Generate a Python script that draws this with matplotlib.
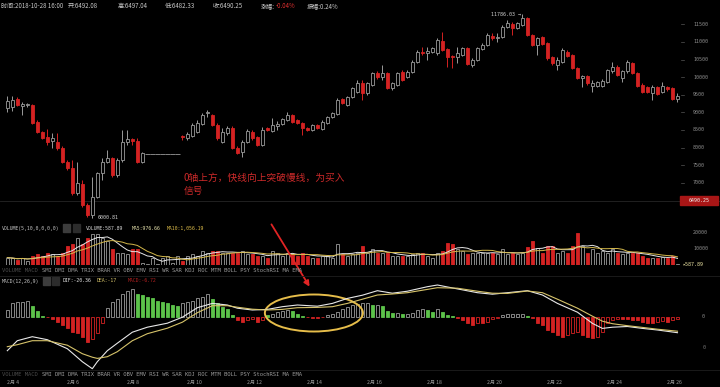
import numpy as np
import pandas as pd
import matplotlib
matplotlib.use("Agg")
import matplotlib.pyplot as plt
import matplotlib.transforms as mtransforms
from matplotlib.patches import Ellipse, Rectangle

plt.rcParams["font.family"] = ["Noto Sans CJK SC", "DejaVu Sans"]

# ---- data (4h candles, 2月4 00:00 onwards) ----
opens = [9123, 9160, 9370, 9190, 9210, 9210, 8730, 8450, 8310, 8180,
         8170, 7980, 7600, 7410, 6700, 6960, 6370, 6090, 6600, 7270,
         7600, 7690, 7220, 7650, 8170, 8230, 8200, 7600, 7815, 7815,
         7815, 7815, 7815, 7815, 7815, 8330, 8270, 8330, 8450, 8680,
         8980, 8930, 8640, 8170, 8400, 8550, 8000, 7880, 8170, 8450,
         8290, 8070, 8550, 8480, 8600, 8670, 8780, 8920, 8780, 8690,
         8550, 8500, 8640, 8540, 8710, 8870, 8950, 9370, 9210, 9440,
         9590, 9820, 9540, 9780, 10120, 9990, 10110, 9680, 9780, 10150,
         10010, 10150, 10440, 10720, 10690, 10720, 10680, 11030, 10790, 10590,
         10580, 10630, 10820, 10340, 10490, 10800, 10910, 11170, 11110, 11130,
         11410, 11510, 11390, 11480, 11670, 11200, 10910, 11130, 10960, 10560,
         10350, 10440, 10720, 10630, 10250, 9970, 10030, 9740, 9760, 9760,
         9870, 10160, 10300, 9970, 10160, 10390, 10110, 9780, 9720, 9540,
         9710, 9590, 9710, 9680, 9370]
highs = [9450, 9450, 9430, 9300, 9260, 9250, 8780, 8480, 8530, 8400,
         8400, 8030, 7650, 7650, 7600, 7070, 6420, 7170, 7310, 7690,
         7930, 7740, 7700, 8500, 8500, 8280, 8280, 7880, 7815, 7815,
         7815, 7815, 7815, 7815, 7815, 8360, 8440, 8690, 8780, 8980,
         9070, 8960, 8700, 8550, 8600, 8600, 8030, 8220, 8520, 8500,
         8320, 8590, 8580, 8830, 8740, 8850, 9010, 8960, 8810, 8730,
         8580, 8680, 8670, 8780, 8910, 9010, 9400, 9400, 9470, 9720,
         9920, 9920, 9870, 10150, 10160, 10340, 10150, 9860, 10150, 10200,
         10190, 10480, 10760, 10860, 10860, 10860, 11100, 11290, 10820, 10620,
         10860, 10860, 10860, 10530, 10860, 10960, 11240, 11240, 11240, 11470,
         11620, 11570, 11570, 11786.03, 11700, 11230, 11150, 11160, 10990, 10590,
         10580, 10820, 10760, 10660, 10280, 10060, 10060, 9920, 9900, 9950,
         10240, 10440, 10340, 10200, 10480, 10430, 10150, 9820, 9750, 9780,
         9740, 9870, 9740, 9710, 9540]
lows = [9020, 9050, 9180, 8920, 9150, 8660, 8410, 8230, 8080, 7990,
        7930, 7550, 7360, 6650, 6650, 6320, 6040, 6000.81, 6560, 7080,
        7560, 7170, 7170, 7600, 8070, 8070, 7560, 7550, 7815, 7815,
        7815, 7815, 7815, 7815, 7815, 8220, 8210, 8300, 8400, 8640,
        8860, 8600, 8220, 8120, 8350, 7950, 7820, 7740, 8120, 8220,
        8030, 8030, 8460, 8450, 8500, 8630, 8740, 8700, 8660, 8350,
        8470, 8470, 8530, 8510, 8680, 8850, 8920, 9230, 9180, 9420,
        9540, 9350, 9500, 9740, 9960, 9920, 9650, 9640, 9740, 9880,
        9970, 10120, 10410, 10630, 10490, 10690, 10640, 10740, 10300, 10270,
        10390, 10590, 10340, 10300, 10460, 10770, 10880, 11050, 11010, 11100,
        11390, 11200, 11360, 11450, 11170, 10880, 10630, 10910, 10500, 10350,
        10200, 10400, 10570, 10220, 9940, 9710, 9790, 9590, 9720, 9720,
        9830, 10110, 10030, 9870, 10130, 10080, 9720, 9560, 9560, 9350,
        9490, 9540, 9620, 9340, 9300]
closes = [9311, 9350, 9210, 9230, 9220, 8690, 8450, 8260, 8170, 8260,
          7980, 7600, 7410, 6700, 6980, 6370, 6090, 6600, 7270, 7600,
          7700, 7220, 7650, 8170, 8230, 8200, 7600, 7840, 7815, 7815,
          7815, 7815, 7815, 7815, 7815, 8290, 8380, 8640, 8710, 8920,
          9000, 8640, 8260, 8450, 8550, 7980, 7850, 8170, 8470, 8260,
          8070, 8500, 8500, 8640, 8670, 8800, 8920, 8730, 8690, 8550,
          8500, 8640, 8560, 8730, 8880, 8980, 9350, 9260, 9440, 9680,
          9820, 9540, 9820, 10110, 9990, 10110, 9680, 9820, 10110, 9920,
          10150, 10440, 10720, 10680, 10740, 10820, 11050, 10770, 10580, 10570,
          10680, 10820, 10370, 10490, 10820, 10910, 11200, 11120, 11150, 11430,
          11540, 11390, 11530, 11670, 11200, 10910, 11100, 10940, 10530, 10390,
          10490, 10770, 10600, 10250, 9970, 10030, 9820, 9820, 9850, 9900,
          10200, 10300, 10060, 10160, 10440, 10110, 9750, 9590, 9590, 9710,
          9520, 9750, 9650, 9370, 9460]
volumes = [4500, 4000, 3000, 4500, 2400, 5500, 6500, 5500, 7500, 6500,
           5500, 7500, 11600, 12600, 16700, 12600, 16700, 19000, 18700, 16700,
           14600, 9600, 7500, 7500, 6500, 9600, 9600, 1400, 500, 4500,
           500, 4500, 5500, 1000, 5500, 2400, 5500, 6500, 5500, 8500,
           7500, 8500, 8500, 7500, 7500, 7500, 7500, 8500, 6500, 6500,
           5500, 5500, 4500, 8500, 7500, 5500, 7500, 6500, 5500, 7500,
           5500, 4500, 4500, 5500, 5500, 4500, 12600, 6500, 5500, 6500,
           7500, 11600, 7500, 9600, 7500, 7500, 7500, 5500, 5500, 5500,
           5500, 6500, 7500, 7500, 5500, 4500, 7500, 8500, 13600, 13000,
           9600, 8500, 6500, 7500, 7500, 7500, 7500, 7500, 6500, 9600,
           6500, 7500, 6500, 7500, 11000, 14600, 10500, 7500, 11600, 11600,
           7500, 8500, 7500, 11600, 19700, 11600, 7500, 9600, 7500, 8500,
           7500, 9600, 7500, 6500, 7500, 7500, 7500, 5500, 4500, 4500,
           4500, 5000, 4500, 5500, 588]
macd_hist = [6.7, 13.3, 15, 15, 16, 10.7, 6, 1, -0.5, -2,
             -5, -8.3, -11.7, -15, -16.7, -20, -25, -22, -16, -6,
             8.3, 15, 18, 23, 26, 27.7, 23, 21.7, 20, 18.3,
             16, 15, 13.3, 11.7, 10.7, 13.3, 15, 16, 18.3, 20,
             22.7, 17.3, 13.3, 10, 7.3, 2, -3.3, -5, -3, -2,
             -5, -3, 2, 3, 5, 5.5, 6.5, 6, 3, 1,
             -0.5, -1, -1, -0.7, 1.5, 3, 5, 8, 10, 12,
             13, 13.3, 14, 11.7, 11.7, 10.7, 6, 3.3, 3.3, 2.7,
             2.7, 4, 6.7, 7.3, 6.7, 5, 7.3, 5, 1.7, 0.3,
             -1.7, -3.3, -6.7, -8.3, -6.7, -6.7, -5, -2.7, -1.7, 2,
             3, 3, 3, 3, 0.3, -1.7, -6.7, -8.3, -13.3, -15,
             -18.3, -20, -18.3, -16.7, -15, -18.3, -20, -21.7, -20, -15,
             -6.7, -3.3, -2, -2, -2, -3, -3.3, -5, -6.7, -6.7,
             -5, -4, -5, -3, -2]
line_idx = [0, 2, 5, 8, 12, 15, 17, 18, 20, 22, 25, 28, 32, 35, 38, 41, 44, 46,
            49, 52, 55, 58, 62, 65, 68, 71, 74, 77, 80, 84, 86, 90, 94, 97, 100,
            104, 107, 110, 114, 117, 119, 121, 124, 127, 130, 134]
dif = [-34, -24, -20, -23, -32, -45, -52, -45, -34, -26.5, -15.5, -10.5, -6.5,
       -0.5, 9, 13.3, 11.7, 8.5, 6.7, 7.3, 10, 11.7, 10.5, 13.3, 18.3, 21.5, 26,
       23.5, 25.5, 30, 31.7, 27.8, 24, 22.5, 24, 26, 21.7, 13.3, 4.5, -6.7,
       -11.7, -10.5, -9.8, -11.7, -13.3, -16]
dea = [-30, -28, -24, -24, -28.5, -37, -40.5, -41.7, -40, -35, -24, -17, -11.5,
       -5.5, 4, 11, 11, 9.5, 7.5, 6.7, 7.3, 9, 9.3, 10, 13.3, 17.5, 21.7, 22.7,
       24, 27.3, 29, 28.5, 25.5, 23.5, 23.3, 25.7, 24, 17.5, 8.5, 0.5, -4.5, -7,
       -9, -10.7, -12.5, -14.5]
days = [4, 6, 8, 10, 12, 14, 16, 18, 20, 22, 24, 26]
day_labels = ["2月 " + str(d) for d in days]
price_ticks = [7000, 7500, 8000, 8500, 9000, 9500, 10000, 10500, 11000, 11500]
vol_ticks = [10000, 20000]
last_price = 6490.25
tabs = ["VOLUME", "MACD", "SMI", "DMI", "DMA", "TRIX", "BRAR", "VR", "OBV", "EMV",
        "RSI", "WR", "SAR", "KDJ", "ROC", "MTM", "BOLL", "PSY", "StochRSI", "MA", "EMA"]

W, H = 720, 387
BG = "#000000"
RED = "#d42222"
GRAY = "#9a9a9a"
GREEN = "#5cc24a"
MONO = ["DejaVu Sans Mono", "Noto Sans CJK SC"]


def band(top, bottom):
    return [0, 1 - bottom / H, 1, (bottom - top) / H]


def ftext(x, y, s, **kw):
    fig.text(x / W, 1 - y / H, s, va="center", **kw)


fig = plt.figure(figsize=(7.2, 3.87), dpi=100, facecolor=BG)
ax_p = fig.add_axes(band(8, 221))
ax_v = fig.add_axes(band(230, 265))
ax_m = fig.add_axes(band(283, 370))
for ax in (ax_p, ax_v, ax_m):
    ax.set_facecolor("none")
    ax.set_axis_off()
    ax.set_xlim(-1.46, 142.5)
ax_p.set_ylim(5914, 11963)
ax_v.set_ylim(0, 21340)
ax_m.set_ylim(-53.3, 33.7)

o, hi, lo, c = (np.array(a, dtype=float) for a in (opens, highs, lows, closes))
x = np.arange(len(c))
up = c >= o
edge = np.where(up, GRAY, RED)
face = np.where(up, BG, RED)

# candles
ax_p.axhline(last_price, color="#262626", lw=0.6, zorder=0)
ax_p.vlines(x, lo, hi, colors=edge, lw=0.7, zorder=1)
flat = hi == lo
ax_p.bar(x, np.maximum(np.abs(c - o), 14), width=np.where(flat, 1.0, 0.66),
         bottom=np.minimum(o, c), color=face, edgecolor=edge, linewidth=0.6, zorder=2)

imin, imax = int(np.argmin(lo)), int(np.argmax(hi))
ax_p.annotate(f"{lo[imin]:.2f}", xy=(imin, lo[imin]), xytext=(4, 0), textcoords="offset points",
              ha="left", va="center", size=3.6, color="#cfcfcf", family=MONO,
              arrowprops=dict(arrowstyle="-", color="#cfcfcf", lw=0.5))
ax_p.annotate(f"{hi[imax]:.2f} →", xy=(imax, hi[imax]), xytext=(-1, 0), textcoords="offset points",
              ha="right", va="center", size=3.6, color="#cfcfcf", family=MONO)

tp = mtransforms.blended_transform_factory(ax_p.transAxes, ax_p.transData)
for p in price_ticks:
    ax_p.text(693 / W, p, str(p), transform=tp, size=3.6, color="#8c8c8c",
              family=MONO, va="center", ha="left")
    ax_p.plot([681 / W, 684 / W], [p, p], transform=tp, color="#555555", lw=0.5)
ax_p.add_patch(Rectangle((680 / W, last_price - 130), 38 / W, 260, transform=tp,
                         color="#a81616", zorder=5))
ax_p.text(699 / W, last_price, f"{last_price:.2f}", transform=tp, size=3.6, color="#f0f0f0",
          family=MONO, ha="center", va="center", zorder=6)

# volume
vol = np.array(volumes, dtype=float)
ax_v.bar(x, vol, 0.66, color=face, edgecolor=edge, linewidth=0.6)
vs = pd.Series(vol)
ax_v.plot(x, vs.rolling(5, min_periods=1).mean(), color="#e6e6e6", lw=0.7)
ax_v.plot(x, vs.rolling(10, min_periods=1).mean(), color="#d4b84a", lw=0.7)
tv = mtransforms.blended_transform_factory(ax_v.transAxes, ax_v.transData)
for v in vol_ticks:
    ax_v.text(693 / W, v, str(v), transform=tv, size=3.6, color="#8c8c8c",
              family=MONO, va="center")
ax_v.text(682 / W, vol[-1], "▸587.89", transform=tv, size=3.6,
          color="#e8e0a0", family=MONO, va="center")

# macd
hist = np.array(macd_hist, dtype=float)
prev = np.concatenate([[0.0], hist[:-1]])
grow = np.abs(hist) >= np.abs(prev)
pos = hist >= 0
hface = np.where(pos, np.where(grow, BG, GREEN), np.where(grow, RED, BG))
hedge = np.where(pos, np.where(grow, GRAY, GREEN), RED)
ax_m.bar(x, hist, 0.66, color=hface, edgecolor=hedge, linewidth=0.6)
ax_m.plot(line_idx, dif, color="#e8e8e8", lw=0.8)
ax_m.plot(line_idx, dea, color="#d6c36a", lw=0.8)
ax_m.add_patch(Ellipse((61.3, 3.7), 19.6, 37, fill=False, edgecolor="#e6bd4a", lw=1.4))
tm = mtransforms.blended_transform_factory(ax_m.transAxes, ax_m.transData)
ax_m.text(702 / W, 0, "0", transform=tm, size=3.6, color="#8c8c8c", family=MONO, va="center")
ax_m.text(703 / W, -31, "0", transform=tm, size=3.6, color="#777777", family=MONO, va="center")

td = mtransforms.blended_transform_factory(ax_m.transData, fig.transFigure)
for d, lab in zip(days, day_labels):
    ax_m.text((d - days[0]) * 6, 1 - 382.5 / H, lab, transform=td, ha="left", va="center",
              size=3.7, color="#9a9a9a", clip_on=False)

# separators
for yy in (276, 370):
    fig.add_artist(plt.Line2D([0, 1], [1 - yy / H] * 2, color="#1e1e1e", lw=0.6))

# header
hdr = dict(size=4.4, color="#c8c8c8")
ftext(1, 6, "时间:2018-10-28 16:00", **hdr)
ftext(68, 6, "开:6492.08", **hdr)
ftext(118, 6, "高:6497.04", **hdr)
ftext(165, 6, "低:6482.33", **hdr)
ftext(213, 6, "收:6490.25", **hdr)
ftext(261, 6, "涨幅:", **hdr)
ftext(276, 6, "-0.04%", size=4.4, color="#e03030")
ftext(307, 6, "振幅:0.24%", **hdr)

# indicator labels
lab = dict(size=3.5, family=MONO)
ftext(2, 228, "VOLUME(5,10,0,0,0,0)", color="#c0c0c0", **lab)
ftext(86, 228, "VOLUME:587.89", color="#d0d0d0", **lab)
ftext(132, 228, "MA5:976.66", color="#e0dca8", **lab)
ftext(167, 228, "MA10:1,056.19", color="#d8b848", **lab)
ftext(2, 281, "MACD(12,26,9)", color="#c0c0c0", **lab)
ftext(63, 281, "DIF:-20.36", color="#e0e0e0", **lab)
ftext(97, 281, "DEA:-17", color="#d6c36a", **lab)
ftext(128, 281, "MACD:-6.72", color="#b02020", **lab)
for bx, by, col in ((63, 228, "#3c3c3c"), (73, 228, "#2c2c2c"), (43, 281, "#3c3c3c"), (52, 281, "#2c2c2c")):
    fig.add_artist(Rectangle((bx / W, 1 - (by + 4) / H), 7 / W, 8 / H, color=col))

for yy in (271, 374):
    ftext(2, yy, " ".join(tabs[:2]), size=4.0, family=MONO, color="#4a4a4a")
    ftext(2 + 12 * 3.37, yy, " ".join(tabs[2:]), size=4.0, family=MONO, color="#9a9a9a")

# annotation
ftext(184, 178, "0轴上方，快线向上突破慢线，为买入", size=7, color="#cc2a2a")
ftext(184, 191, "信号", size=7, color="#cc2a2a")
ax_m.annotate("", xy=(311, H - 289), xytext=(270, H - 222), xycoords="figure pixels",
              textcoords="figure pixels", annotation_clip=False,
              arrowprops=dict(arrowstyle="-|>", color="#e02424", lw=1.3, mutation_scale=8))

fig.savefig("out.png", dpi=100, facecolor=BG)
